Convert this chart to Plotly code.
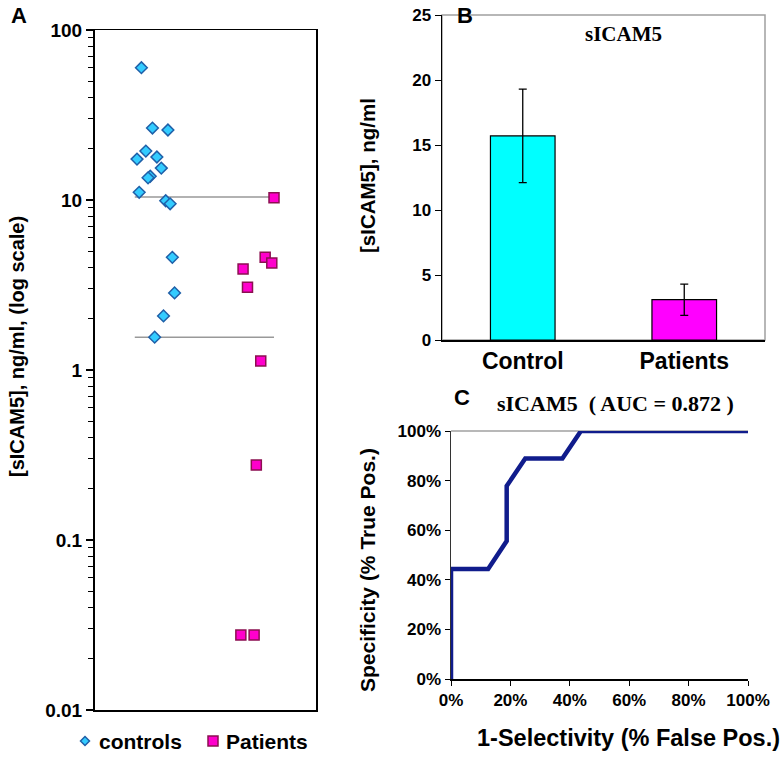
import plotly.graph_objects as go

W, H = 784, 759

# ---------- Data ----------
# Panel A: individual values (ng/ml) with horizontal jitter positions
controls_x = [0.21, 0.26, 0.33, 0.23, 0.19, 0.28, 0.30, 0.25, 0.24, 0.20, 0.32, 0.34, 0.35, 0.36, 0.31, 0.27]
controls_y = [60, 26.5, 25.8, 19.4, 17.4, 17.9, 15.4, 13.8, 13.5, 11.1, 9.9, 9.5, 4.6, 2.84, 2.08, 1.56]
patients_x = [0.81, 0.77, 0.80, 0.67, 0.69, 0.75, 0.73, 0.66, 0.72]
patients_y = [10.3, 4.6, 4.26, 3.93, 3.07, 1.13, 0.276, 0.0276, 0.0276]
ref_lines = [10.4, 1.56]
ref_line_x = [0.18, 0.81]
a_ticks = [100, 10, 1, 0.1, 0.01]
a_ticktext = ["100", "10", "1", "0.1", "0.01"]
legend_names = ["controls", "Patients"]

# Panel B: means and SD
b_cats = ["Control", "Patients"]
b_means = [15.7, 3.1]
b_err = [3.6, 1.2]
b_colors = ["#00FFFF", "#FF00FF"]

# Panel C: ROC curve
roc_fp = [0, 0, 0.125, 0.1875, 0.1875, 0.25, 0.375, 0.4375, 1.0]
roc_tp = [0, 0.444, 0.444, 0.556, 0.778, 0.889, 0.889, 1.0, 1.0]
pct_ticks = [0, 0.2, 0.4, 0.6, 0.8, 1.0]


def px(x):
    return x / W


def py(y):
    return 1 - y / H


AR = "Liberation Sans, Arial, sans-serif"
TM = "Liberation Serif, Times New Roman, serif"

CTRL_FILL, CTRL_LINE = "#33CCFF", "#1F5FA8"
PAT_FILL, PAT_LINE = "#FF00CC", "#8B1050"

fig = go.Figure()

# Panel A
for v in ref_lines:
    fig.add_trace(go.Scatter(
        x=ref_line_x, y=[v, v], mode="lines", showlegend=False,
        line=dict(color="#999999", width=1.5), xaxis="x", yaxis="y", hoverinfo="skip"))
fig.add_trace(go.Scatter(
    x=controls_x, y=controls_y, mode="markers", name=legend_names[0], showlegend=False,
    marker=dict(symbol="diamond", size=9, color=CTRL_FILL, line=dict(color=CTRL_LINE, width=1.5)),
    xaxis="x", yaxis="y", cliponaxis=False))
fig.add_trace(go.Scatter(
    x=patients_x, y=patients_y, mode="markers", name=legend_names[1], showlegend=False,
    marker=dict(symbol="square", size=10, color=PAT_FILL, line=dict(color=PAT_LINE, width=1.5)),
    xaxis="x", yaxis="y", cliponaxis=False))

# Panel B
fig.add_trace(go.Bar(
    x=b_cats, y=b_means, width=0.4, showlegend=False,
    marker=dict(color=b_colors, line=dict(color="black", width=1.2)),
    error_y=dict(type="data", array=b_err, color="black", thickness=1.3, width=4),
    xaxis="x2", yaxis="y2"))

# Panel C
fig.add_trace(go.Scatter(
    x=roc_fp, y=roc_tp, mode="lines", showlegend=False,
    line=dict(color="#101C8C", width=4.5), cliponaxis=False,
    xaxis="x3", yaxis="y3"))

tickfont_bold = dict(family=AR, size=17, color="black", weight="bold")

fig.update_layout(
    width=W, height=H,
    margin=dict(l=0, r=0, t=0, b=0, autoexpand=False),
    paper_bgcolor="white", plot_bgcolor="white",
    showlegend=False,
    xaxis=dict(domain=[px(95), px(316)], range=[0, 1], showticklabels=False, ticks="",
               showgrid=False, zeroline=False, showline=True, linecolor="black", linewidth=1.5,
               mirror=True, anchor="y", automargin=False),
    yaxis=dict(domain=[py(710), py(30)], type="log", range=[-2, 2], tickvals=a_ticks,
               ticktext=a_ticktext, ticks="outside", ticklen=7, tickwidth=1.5, tickcolor="black",
               minor=dict(ticks="outside", ticklen=5, tickwidth=1, tickcolor="black", dtick="D1", showgrid=False),
               tickfont=dict(family=AR, size=19, color="black", weight="bold"),
               showgrid=False, zeroline=False, showline=True,
               linecolor="black", linewidth=2, mirror=True, anchor="x", automargin=False),
    xaxis2=dict(domain=[px(442), px(765)], range=[-0.5, 1.5], type="category",
                tickfont=dict(family=AR, size=23, color="black", weight="bold"),
                ticks="", showgrid=False, zeroline=False, showline=True,
                linecolor="black", linewidth=1.5, anchor="y2", automargin=False),
    yaxis2=dict(domain=[py(340), py(15)], range=[0, 25], dtick=5, ticks="outside", ticklen=6,
                tickcolor="black", tickfont=dict(family=AR, size=17, color="black", weight="bold"),
                showgrid=False, zeroline=False,
                showline=True, linecolor="black", linewidth=1.5, anchor="x2", automargin=False),
    xaxis3=dict(domain=[px(451), px(748)], range=[0, 1], tickvals=pct_ticks,
                tickformat=".0%", ticks="outside", ticklen=5, tickcolor="black",
                tickfont=tickfont_bold, showgrid=False, zeroline=False, showline=True,
                linecolor="black", linewidth=1.5, anchor="y3", automargin=False),
    yaxis3=dict(domain=[py(679), py(431)], range=[0, 1], tickvals=pct_ticks,
                tickformat=".0%", ticks="outside", ticklen=5, tickcolor="black",
                tickfont=tickfont_bold, showgrid=False, zeroline=False, showline=True,
                linecolor="#333333", linewidth=1.5, anchor="x3", automargin=False),
)

# Manual legend for panel A
lx_d, lx_s, ly = 85, 213, 741
dh = 4.5
diamond_path = "M {},{} L {},{} L {},{} L {},{} Z".format(
    px(lx_d - dh), py(ly), px(lx_d), py(ly - dh), px(lx_d + dh), py(ly), px(lx_d), py(ly + dh))

shapes = [
    dict(type="rect", xref="x2 domain", yref="y2 domain", x0=0, x1=1, y0=0, y1=1,
         line=dict(color="#A0A0A0", width=1.5), layer="below"),
    dict(type="line", xref="x3 domain", yref="y3 domain", x0=0, x1=1, y0=1, y1=1,
         line=dict(color="#A0A0A0", width=1.5), layer="below"),
    dict(type="path", xref="paper", yref="paper", path=diamond_path,
         fillcolor=CTRL_FILL, line=dict(color=CTRL_LINE, width=1.5)),
    dict(type="rect", xref="paper", yref="paper", x0=px(lx_s - 5), x1=px(lx_s + 5),
         y0=py(ly + 5), y1=py(ly - 5), fillcolor=PAT_FILL, line=dict(color=PAT_LINE, width=1.5)),
]
fig.update_layout(shapes=shapes)

annotations = []
for t, x, y in [("A", 19, 16), ("B", 465, 16), ("C", 462, 397)]:
    annotations.append(dict(text="<b>%s</b>" % t, x=px(x), y=py(y),
                            font=dict(family=AR, size=22, color="black")))
annotations += [
    dict(text="<b>%s</b>" % legend_names[0], x=px(97), y=py(ly), xanchor="left",
         font=dict(family=AR, size=21, color="black")),
    dict(text="<b>%s</b>" % legend_names[1], x=px(224), y=py(ly), xanchor="left",
         font=dict(family=AR, size=21, color="black")),
    dict(text="<b>[sICAM5], ng/ml, (log scale)</b>", x=px(17), y=py(347), textangle=-90,
         font=dict(family=AR, size=20, color="black")),
    dict(text="<b>[sICAM5], ng/ml</b>", x=px(367), y=py(176), textangle=-90,
         font=dict(family=AR, size=20.5, color="black")),
    dict(text="<b>Specificity (% True Pos.)</b>", x=px(367), y=py(570), textangle=-90,
         font=dict(family=AR, size=21, color="black")),
    dict(text="<b>1-Selectivity (% False Pos.)</b>", x=px(628), y=py(738),
         font=dict(family=AR, size=23.5, color="black")),
    dict(text="<b>sICAM5</b>", x=px(623), y=py(34),
         font=dict(family=TM, size=21, color="black")),
    dict(text="<b>sICAM5  ( AUC = 0.872 )</b>", x=px(615), y=py(404),
         font=dict(family=TM, size=22, color="black")),
]
for a in annotations:
    a.setdefault("xref", "paper")
    a.setdefault("yref", "paper")
    a.setdefault("showarrow", False)
    a.setdefault("xanchor", "center")
    a.setdefault("yanchor", "middle")
fig.update_layout(annotations=annotations)

# Remove the page's default body margin so the figure fills the window exactly.
fig.write_html("out.html",
               config={"displayModeBar": False, "staticPlot": True},
               post_script="document.body.style.margin='0';document.body.style.overflow='hidden';")
